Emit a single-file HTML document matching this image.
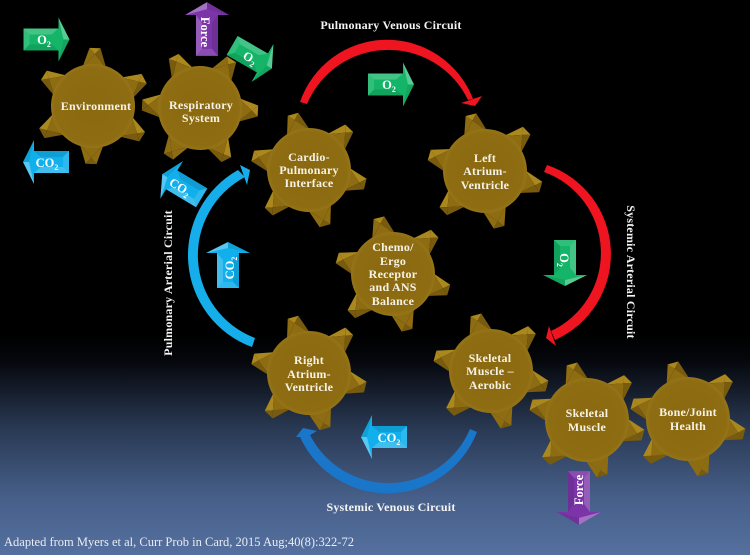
<!DOCTYPE html>
<html><head><meta charset="utf-8"><style>
html,body{margin:0;padding:0;background:#000}
svg{display:block}
text{font-family:"Liberation Serif",serif;fill:#fff}
.g{font-weight:bold;font-size:12px;text-anchor:middle;letter-spacing:.25px;fill:#f6f3e6}
.c{font-weight:bold;font-size:12px;text-anchor:middle;letter-spacing:.2px;fill:#f4f4f4}
.a{font-weight:bold;font-size:12.5px;text-anchor:middle}
.s{font-size:8px}
.l{fill:#ab881e}.m{fill:#8e6c12}.d{fill:#785b0e}
</style></head><body>
<svg width="750" height="555" viewBox="0 0 750 555" xmlns="http://www.w3.org/2000/svg">
<defs>
<linearGradient id="bg" x1="0" y1="0" x2="0" y2="1">
<stop offset="0" stop-color="#000"/><stop offset=".6" stop-color="#000"/><stop offset=".65" stop-color="#05070c"/><stop offset=".775" stop-color="#2a3a55"/><stop offset=".9" stop-color="#47608a"/><stop offset="1" stop-color="#55709f"/>
</linearGradient>
<radialGradient id="body" cx=".5" cy=".5" r=".5"><stop offset="0" stop-color="#8a6910"/><stop offset=".9" stop-color="#8e6c12"/><stop offset="1" stop-color="#967418"/></radialGradient>
<g id="gear">
<g><polygon class="m" points="-12,-38 -5.5,-58 0,-52"/><polygon class="d" points="12,-38 5.5,-58 0,-52"/><polygon class="l" points="-5.5,-58 5.5,-58 0,-52"/><polygon class="m" points="-12,-38 12,-38 0,-52"/></g>
<g transform="rotate(60)"><polygon class="l" points="-12,-38 -5.5,-58 0,-52"/><polygon class="d" points="12,-38 5.5,-58 0,-52"/><polygon class="l" points="-5.5,-58 5.5,-58 0,-52"/><polygon class="m" points="-12,-38 12,-38 0,-52"/></g>
<g transform="rotate(120)"><polygon class="l" points="-12,-38 -5.5,-58 0,-52"/><polygon class="d" points="12,-38 5.5,-58 0,-52"/><polygon class="d" points="-5.5,-58 5.5,-58 0,-52"/><polygon class="m" points="-12,-38 12,-38 0,-52"/></g>
<g transform="rotate(180)"><polygon class="m" points="-12,-38 -5.5,-58 0,-52"/><polygon class="m" points="12,-38 5.5,-58 0,-52"/><polygon class="d" points="-5.5,-58 5.5,-58 0,-52"/><polygon class="m" points="-12,-38 12,-38 0,-52"/></g>
<g transform="rotate(240)"><polygon class="d" points="-12,-38 -5.5,-58 0,-52"/><polygon class="l" points="12,-38 5.5,-58 0,-52"/><polygon class="d" points="-5.5,-58 5.5,-58 0,-52"/><polygon class="m" points="-12,-38 12,-38 0,-52"/></g>
<g transform="rotate(300)"><polygon class="d" points="-12,-38 -5.5,-58 0,-52"/><polygon class="l" points="12,-38 5.5,-58 0,-52"/><polygon class="l" points="-5.5,-58 5.5,-58 0,-52"/><polygon class="m" points="-12,-38 12,-38 0,-52"/></g>
<circle r="42" fill="url(#body)"/>
</g>
<g id="arr">
<polygon fill="currentColor" points="-23,-11 12,-11 12,-22 23,0 12,22 12,11 -23,11"/>
<polygon fill="#fff" opacity=".2" points="-23,-11 12,-11 5,-5 -17,-5"/>
<polygon fill="#000" opacity=".1" points="-23,11 12,11 5,5 -17,5"/>
<polygon fill="#fff" opacity=".12" points="-23,-11 -17,-5 -17,5 -23,11"/>
<polygon fill="#fff" opacity=".3" points="12,-22 23,0 17,0"/>
<polygon fill="#000" opacity=".08" points="12,22 23,0 17,0"/>
</g>
</defs>
<rect width="750" height="555" fill="url(#bg)"/>

<!-- gears -->
<use href="#gear" transform="translate(93,106) rotate(2)"/>
<use href="#gear" transform="translate(200,108) rotate(33)"/>
<use href="#gear" transform="translate(309,170) rotate(-16)"/>
<use href="#gear" transform="translate(485,171) rotate(-14)"/>
<use href="#gear" transform="translate(393,274) rotate(-14)"/>
<use href="#gear" transform="translate(309,373) rotate(-16)"/>
<use href="#gear" transform="translate(491,371) rotate(-15)"/>
<use href="#gear" transform="translate(587,420) rotate(-15)"/>
<use href="#gear" transform="translate(688,419) rotate(-15)"/>

<!-- arcs -->
<path d="M300,102 A92,92 0 0 1 473,99 L468,100 A88.3,88.3 0 0 0 307,104 Z" fill="#ee1420"/>
<polygon points="461,103 482,96 475,106" fill="#ee1420"/>

<path d="M547,165 A94,94 0 0 1 555,340 L551,331 A86,86 0 0 0 544,172 Z" fill="#ee1420"/>
<polygon points="549,326 556,346 546,338" fill="#ee1420"/>

<path d="M238,170 A97.7,97.7 0 0 0 252,347 L255,338 A88.5,88.5 0 0 1 245,177 Z" fill="#16aeea"/>
<polygon points="240,165 247,185 250,170" fill="#16aeea"/>

<path d="M477,432 A96,96 0 0 1 300,437 L309,433 A88.3,88.3 0 0 0 470,429 Z" fill="#1a76c8"/>
<polygon points="296,437 303,428 317,431 307,437" fill="#1a76c8"/>

<!-- arrows -->
<use href="#arr" color="#14b568" transform="translate(46.5,39.5)"/>
<use href="#arr" color="#14b568" transform="translate(391,84.5)"/>
<use href="#arr" color="#14b568" transform="translate(252,57) rotate(30)"/>
<use href="#arr" color="#14b568" transform="translate(565,263) rotate(90)"/>
<use href="#arr" color="#7b35a8" transform="translate(207,29) rotate(-90) scale(1.17,1)"/>
<use href="#arr" color="#7b35a8" transform="translate(579,498) rotate(90) scale(1.17,1)"/>
<use href="#arr" color="#11b0ec" transform="translate(46,162) rotate(180)"/>
<use href="#arr" color="#11b0ec" transform="translate(182,186) rotate(211)"/>
<use href="#arr" color="#11b0ec" transform="translate(228,265) rotate(-90)"/>
<use href="#arr" color="#11b0ec" transform="translate(384,437) rotate(180)"/>

<!-- arrow labels -->
<text class="a" x="44" y="44">O<tspan class="s" dy="3">2</tspan></text>
<text class="a" x="389" y="89">O<tspan class="s" dy="3">2</tspan></text>
<text class="a" transform="translate(250,58) rotate(30)" y="4">O<tspan class="s" dy="3">2</tspan></text>
<text class="a" transform="translate(564,260) rotate(90)" y="4">O<tspan class="s" dy="3">2</tspan></text>
<text class="a" transform="translate(205,32) rotate(90)" y="4">Force</text>
<text class="a" transform="translate(579,490) rotate(-90)" y="4">Force</text>
<text class="a" x="47" y="167">CO<tspan class="s" dy="3">2</tspan></text>
<text class="a" transform="translate(180,187) rotate(31)" y="4">CO<tspan class="s" dy="3">2</tspan></text>
<text class="a" transform="translate(230,268) rotate(-90)" y="4">CO<tspan class="s" dy="3">2</tspan></text>
<text class="a" x="389" y="442">CO<tspan class="s" dy="3">2</tspan></text>

<!-- gear labels -->
<text class="g" x="96" y="110">Environment</text>
<text class="g" x="201" y="109">Respiratory</text><text class="g" x="201" y="122">System</text>
<text class="g" x="309" y="161">Cardio-</text><text class="g" x="309" y="174">Pulmonary</text><text class="g" x="309" y="187">Interface</text>
<text class="g" x="485" y="162">Left</text><text class="g" x="485" y="175">Atrium-</text><text class="g" x="485" y="189">Ventricle</text>
<text class="g" x="393" y="251">Chemo/</text><text class="g" x="393" y="265">Ergo</text><text class="g" x="393" y="278">Receptor</text><text class="g" x="393" y="291">and ANS</text><text class="g" x="393" y="305">Balance</text>
<text class="g" x="309" y="364">Right</text><text class="g" x="309" y="378">Atrium-</text><text class="g" x="309" y="391">Ventricle</text>
<text class="g" x="490" y="362">Skeletal</text><text class="g" x="490" y="375">Muscle –</text><text class="g" x="490" y="389">Aerobic</text>
<text class="g" x="587" y="417">Skeletal</text><text class="g" x="587" y="431">Muscle</text>
<text class="g" x="688" y="416">Bone/Joint</text><text class="g" x="688" y="430">Health</text>

<!-- circuit labels -->
<text class="c" x="391" y="29">Pulmonary Venous Circuit</text>
<text class="c" x="391" y="511">Systemic Venous Circuit</text>
<text class="c" transform="translate(627,272) rotate(90)">Systemic Arterial Circuit</text>
<text class="c" transform="translate(172,283) rotate(-90)">Pulmonary Arterial Circuit</text>

<text x="4" y="546" font-size="12.5" style="fill:#e8ecf4">Adapted from Myers et al, Curr Prob in Card, 2015 Aug;40(8):322-72</text>
</svg>
</body></html>
